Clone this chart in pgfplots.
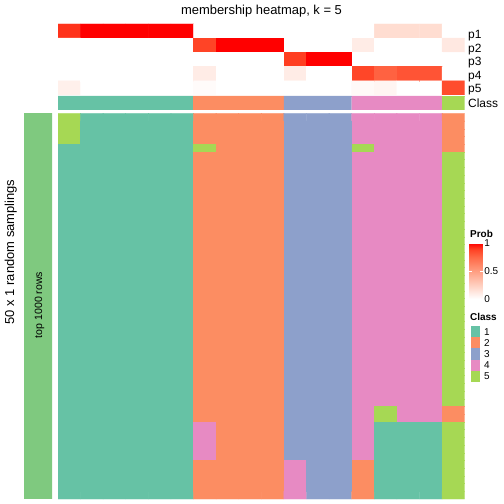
\documentclass[border=0pt]{standalone}
\usepackage{fontspec}
\setmainfont{Liberation Sans}
\usepackage{pgfplots}
\pgfplotsset{compat=1.18}
\definecolor{cA}{RGB}{102,194,165}
\definecolor{cB}{RGB}{252,141,98}
\definecolor{cC}{RGB}{141,160,203}
\definecolor{cD}{RGB}{231,138,195}
\definecolor{cE}{RGB}{166,216,84}
\definecolor{accg}{RGB}{127,201,127}
\pgfplotsset{
  colormap={set2}{rgb255=(102,194,165) rgb255=(252,141,98) rgb255=(141,160,203) rgb255=(231,138,195) rgb255=(166,216,84)},
  colormap={whitered}{rgb255(0cm)=(255,255,255) rgb255(10cm)=(255,236,230) rgb255(25cm)=(255,207,191) rgb255(50cm)=(255,158,129) rgb255(75cm)=(255,104,70) rgb255(90cm)=(255,62,33) rgb255(100cm)=(255,0,0)},
}
\begin{document}
\begin{tikzpicture}
\useasboundingbox (0,0) rectangle (504bp,504bp);
% main heatmap: 50 samplings x 18 samples, class index 0..4
\begin{axis}[at={(58bp,5bp)}, anchor=south west, scale only axis,
  width=406.7bp, height=385.7bp, hide axis,
  xmin=0.5, xmax=18.5, ymin=0.5, ymax=50.5, y dir=reverse,
  colormap name=set2, colormap access=direct]
\addplot[matrix plot*, mesh/cols=18, point meta=explicit]
 table[row sep=\\, header=false, x expr={\coordindex+1-18*floor((\coordindex+0.5)/18)}, y expr={floor((\coordindex+0.5)/18)+1}, meta index=0] {
4\\0\\0\\0\\0\\0\\1\\1\\1\\1\\2\\2\\2\\3\\3\\3\\3\\1\\
4\\0\\0\\0\\0\\0\\1\\1\\1\\1\\2\\2\\2\\3\\3\\3\\3\\1\\
4\\0\\0\\0\\0\\0\\1\\1\\1\\1\\2\\2\\2\\3\\3\\3\\3\\1\\
4\\0\\0\\0\\0\\0\\1\\1\\1\\1\\2\\2\\2\\3\\3\\3\\3\\1\\
0\\0\\0\\0\\0\\0\\4\\1\\1\\1\\2\\2\\2\\4\\3\\3\\3\\1\\
0\\0\\0\\0\\0\\0\\1\\1\\1\\1\\2\\2\\2\\3\\3\\3\\3\\4\\
0\\0\\0\\0\\0\\0\\1\\1\\1\\1\\2\\2\\2\\3\\3\\3\\3\\4\\
0\\0\\0\\0\\0\\0\\1\\1\\1\\1\\2\\2\\2\\3\\3\\3\\3\\4\\
0\\0\\0\\0\\0\\0\\1\\1\\1\\1\\2\\2\\2\\3\\3\\3\\3\\4\\
0\\0\\0\\0\\0\\0\\1\\1\\1\\1\\2\\2\\2\\3\\3\\3\\3\\4\\
0\\0\\0\\0\\0\\0\\1\\1\\1\\1\\2\\2\\2\\3\\3\\3\\3\\4\\
0\\0\\0\\0\\0\\0\\1\\1\\1\\1\\2\\2\\2\\3\\3\\3\\3\\4\\
0\\0\\0\\0\\0\\0\\1\\1\\1\\1\\2\\2\\2\\3\\3\\3\\3\\4\\
0\\0\\0\\0\\0\\0\\1\\1\\1\\1\\2\\2\\2\\3\\3\\3\\3\\4\\
0\\0\\0\\0\\0\\0\\1\\1\\1\\1\\2\\2\\2\\3\\3\\3\\3\\4\\
0\\0\\0\\0\\0\\0\\1\\1\\1\\1\\2\\2\\2\\3\\3\\3\\3\\4\\
0\\0\\0\\0\\0\\0\\1\\1\\1\\1\\2\\2\\2\\3\\3\\3\\3\\4\\
0\\0\\0\\0\\0\\0\\1\\1\\1\\1\\2\\2\\2\\3\\3\\3\\3\\4\\
0\\0\\0\\0\\0\\0\\1\\1\\1\\1\\2\\2\\2\\3\\3\\3\\3\\4\\
0\\0\\0\\0\\0\\0\\1\\1\\1\\1\\2\\2\\2\\3\\3\\3\\3\\4\\
0\\0\\0\\0\\0\\0\\1\\1\\1\\1\\2\\2\\2\\3\\3\\3\\3\\4\\
0\\0\\0\\0\\0\\0\\1\\1\\1\\1\\2\\2\\2\\3\\3\\3\\3\\4\\
0\\0\\0\\0\\0\\0\\1\\1\\1\\1\\2\\2\\2\\3\\3\\3\\3\\4\\
0\\0\\0\\0\\0\\0\\1\\1\\1\\1\\2\\2\\2\\3\\3\\3\\3\\4\\
0\\0\\0\\0\\0\\0\\1\\1\\1\\1\\2\\2\\2\\3\\3\\3\\3\\4\\
0\\0\\0\\0\\0\\0\\1\\1\\1\\1\\2\\2\\2\\3\\3\\3\\3\\4\\
0\\0\\0\\0\\0\\0\\1\\1\\1\\1\\2\\2\\2\\3\\3\\3\\3\\4\\
0\\0\\0\\0\\0\\0\\1\\1\\1\\1\\2\\2\\2\\3\\3\\3\\3\\4\\
0\\0\\0\\0\\0\\0\\1\\1\\1\\1\\2\\2\\2\\3\\3\\3\\3\\4\\
0\\0\\0\\0\\0\\0\\1\\1\\1\\1\\2\\2\\2\\3\\3\\3\\3\\4\\
0\\0\\0\\0\\0\\0\\1\\1\\1\\1\\2\\2\\2\\3\\3\\3\\3\\4\\
0\\0\\0\\0\\0\\0\\1\\1\\1\\1\\2\\2\\2\\3\\3\\3\\3\\4\\
0\\0\\0\\0\\0\\0\\1\\1\\1\\1\\2\\2\\2\\3\\3\\3\\3\\4\\
0\\0\\0\\0\\0\\0\\1\\1\\1\\1\\2\\2\\2\\3\\3\\3\\3\\4\\
0\\0\\0\\0\\0\\0\\1\\1\\1\\1\\2\\2\\2\\3\\3\\3\\3\\4\\
0\\0\\0\\0\\0\\0\\1\\1\\1\\1\\2\\2\\2\\3\\3\\3\\3\\4\\
0\\0\\0\\0\\0\\0\\1\\1\\1\\1\\2\\2\\2\\3\\3\\3\\3\\4\\
0\\0\\0\\0\\0\\0\\1\\1\\1\\1\\2\\2\\2\\3\\3\\3\\3\\4\\
0\\0\\0\\0\\0\\0\\1\\1\\1\\1\\2\\2\\2\\3\\4\\3\\3\\1\\
0\\0\\0\\0\\0\\0\\1\\1\\1\\1\\2\\2\\2\\3\\4\\3\\3\\1\\
0\\0\\0\\0\\0\\0\\3\\1\\1\\1\\2\\2\\2\\3\\0\\0\\0\\4\\
0\\0\\0\\0\\0\\0\\3\\1\\1\\1\\2\\2\\2\\3\\0\\0\\0\\4\\
0\\0\\0\\0\\0\\0\\3\\1\\1\\1\\2\\2\\2\\3\\0\\0\\0\\4\\
0\\0\\0\\0\\0\\0\\3\\1\\1\\1\\2\\2\\2\\3\\0\\0\\0\\4\\
0\\0\\0\\0\\0\\0\\3\\1\\1\\1\\2\\2\\2\\3\\0\\0\\0\\4\\
0\\0\\0\\0\\0\\0\\1\\1\\1\\1\\3\\2\\2\\1\\0\\0\\0\\4\\
0\\0\\0\\0\\0\\0\\1\\1\\1\\1\\3\\2\\2\\1\\0\\0\\0\\4\\
0\\0\\0\\0\\0\\0\\1\\1\\1\\1\\3\\2\\2\\1\\0\\0\\0\\4\\
0\\0\\0\\0\\0\\0\\1\\1\\1\\1\\3\\2\\2\\1\\0\\0\\0\\4\\
0\\0\\0\\0\\0\\0\\1\\1\\1\\1\\3\\2\\2\\1\\0\\0\\0\\4\\
};
\end{axis}
% membership probabilities p1..p5
\begin{axis}[at={(58bp,409bp)}, anchor=south west, scale only axis,
  width=406.7bp, height=71bp, hide axis,
  xmin=0.5, xmax=18.5, ymin=0.5, ymax=5.5, y dir=reverse,
  colormap name=whitered, point meta min=0, point meta max=1]
\addplot[matrix plot*, mesh/cols=18, point meta=explicit]
 table[row sep=\\, header=false, x expr={\coordindex+1-18*floor((\coordindex+0.5)/18)}, y expr={floor((\coordindex+0.5)/18)+1}, meta index=0] {
0.92\\1\\1\\1\\1\\1\\0\\0\\0\\0\\0\\0\\0\\0\\0.18\\0.18\\0.18\\0\\
0\\0\\0\\0\\0\\0\\0.88\\1\\1\\1\\0\\0\\0\\0.1\\0\\0\\0\\0.12\\
0\\0\\0\\0\\0\\0\\0\\0\\0\\0\\0.9\\1\\1\\0\\0\\0\\0\\0\\
0\\0\\0\\0\\0\\0\\0.1\\0\\0\\0\\0.1\\0\\0\\0.87\\0.77\\0.82\\0.82\\0\\
0.08\\0\\0\\0\\0\\0\\0.02\\0\\0\\0\\0\\0\\0\\0.03\\0.05\\0\\0\\0.85\\
};
\end{axis}
% class row
\begin{axis}[at={(58bp,394bp)}, anchor=south west, scale only axis,
  width=406.7bp, height=14bp, hide axis,
  xmin=0.5, xmax=18.5, ymin=0, ymax=1]
\addplot[ybar, bar width=1, bar shift=0pt, fill=cA, draw=cA, line width=0.2pt] coordinates {(1,1) (2,1) (3,1) (4,1) (5,1) (6,1)};
\addplot[ybar, bar width=1, bar shift=0pt, fill=cB, draw=cB, line width=0.2pt] coordinates {(7,1) (8,1) (9,1) (10,1)};
\addplot[ybar, bar width=1, bar shift=0pt, fill=cC, draw=cC, line width=0.2pt] coordinates {(11,1) (12,1) (13,1)};
\addplot[ybar, bar width=1, bar shift=0pt, fill=cD, draw=cD, line width=0.2pt] coordinates {(14,1) (15,1) (16,1) (17,1)};
\addplot[ybar, bar width=1, bar shift=0pt, fill=cE, draw=cE, line width=0.2pt] coordinates {(18,1)};
\end{axis}
% left annotation bar
\begin{axis}[at={(24bp,5bp)}, anchor=south west, scale only axis,
  width=28bp, height=385.7bp, hide axis,
  xmin=0.5, xmax=1.5, ymin=0, ymax=1]
\addplot[ybar, bar width=1, bar shift=0pt, fill=accg, draw=accg, line width=0.2pt] coordinates {(1,1)};
\end{axis}
% colorbar
\begin{axis}[at={(469.3bp,205bp)}, anchor=south west, scale only axis,
  width=13.4bp, height=56bp, hide axis, xmin=0, xmax=1, ymin=0, ymax=1,
  colormap name=whitered, point meta min=0, point meta max=1,
  colorbar, colorbar style={at={(parent axis.south west)}, anchor=south west, xshift=-0.3cm,
    width=13.4bp, height=56bp, ytick={0,0.5,1}, axis line style={draw=none},
    major tick length=2.5bp, tick style={white, line width=0.8pt},
    yticklabel style={font=\fontsize{10}{12}\selectfont, inner sep=1.5bp},
    /pgf/number format/assume math mode=true}]
\addplot[draw=none, forget plot] coordinates {(0,0)};
\end{axis}
% texts
\node[anchor=base, inner sep=0] at (261.5bp,489bp) {\fontsize{13}{15}\selectfont membership heatmap, k = 5};
\begin{scope}[every node/.style={anchor=base west, inner sep=0, font=\fontsize{12}{14}\selectfont}]
\node at (468bp,465bp) {p1};
\node at (468bp,451.6bp) {p2};
\node at (468bp,438.2bp) {p3};
\node at (468bp,424.8bp) {p4};
\node at (468bp,411.4bp) {p5};
\node at (468bp,396.7bp) {Class};
\end{scope}
\node[rotate=90, anchor=base, inner sep=0] at (14bp,252bp) {\fontsize{13}{15}\selectfont 50 x 1 random samplings};
\node[rotate=90, anchor=base, inner sep=0] at (42bp,199bp) {\fontsize{10.6}{12}\selectfont top 1000 rows};
\node[anchor=base west, inner sep=0] at (470bp,266.3bp) {\fontsize{10}{12}\selectfont\bfseries Prob};
\node[anchor=base west, inner sep=0] at (470bp,183bp) {\fontsize{10}{12}\selectfont\bfseries Class};
\fill[cA] (470.7bp,166.8bp) rectangle (480.3bp,178bp);
\fill[cB] (470.7bp,155.6bp) rectangle (480.3bp,166.8bp);
\fill[cC] (470.7bp,144.4bp) rectangle (480.3bp,155.6bp);
\fill[cD] (470.7bp,133.2bp) rectangle (480.3bp,144.4bp);
\fill[cE] (470.7bp,122bp) rectangle (480.3bp,133.2bp);
\begin{scope}[every node/.style={anchor=west, inner sep=0, font=\fontsize{10}{12}\selectfont}]
\node at (484bp,172.4bp) {1};
\node at (484bp,161.2bp) {2};
\node at (484bp,150bp) {3};
\node at (484bp,138.8bp) {4};
\node at (484bp,127.6bp) {5};
\end{scope}
\end{tikzpicture}
\end{document}
